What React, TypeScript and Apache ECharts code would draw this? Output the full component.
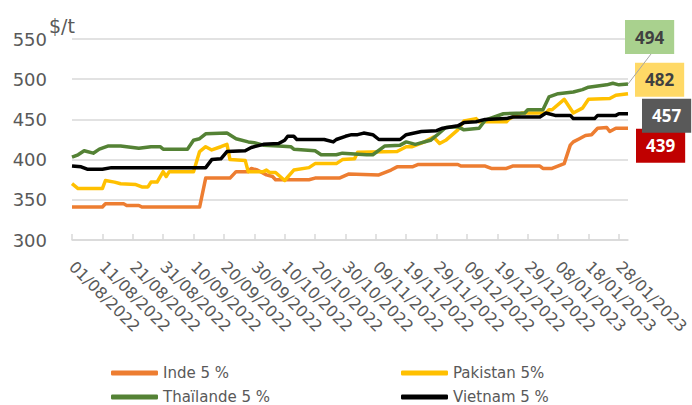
import React, { useEffect, useRef } from "react";
import * as echarts from "echarts";

// ---- data ----
const START_DATE = Date.UTC(2022, 7, 1); // 01/08/2022
const DAY_COUNT = 184; // 01/08/2022 .. 31/01/2023
const LABEL_EVERY = 10; // days between date labels

const yTicks = { min: 300, max: 550, step: 50 };
const unitLabel = "$/t";

const seriesNames = ["Inde 5 %", "Pakistan 5%", "Thaïlande 5 %", "Vietnam 5 %"];
const seriesColors = ["#ED7D31", "#FFC000", "#548235", "#000000"];
const boxColors = ["#C00000", "#FFD966", "#A9D18E", "#595959"];
const boxTextColors = ["#FFFFFF", "#404040", "#404040", "#FFFFFF"];

// [day index from 01/08/2022, $/t]
const inde: [number, number][] = [
  [0, 341], [10, 341], [11, 345], [17, 345], [18, 343], [22, 343], [23, 341], [42, 341],
  [44, 377], [52, 377], [54, 385], [58, 385], [59, 389], [61, 387], [64, 381], [66, 379],
  [67, 375], [78, 375], [80, 377], [88, 377], [91, 382], [101, 381], [105, 387], [107, 391],
  [112, 391], [114, 394], [127, 394], [128, 392], [136, 392], [138, 389], [143, 389],
  [145, 392], [154, 392], [155, 389], [158, 389], [162, 395], [164, 418], [165, 422],
  [167, 426], [169, 430], [171, 431], [173, 439], [176, 440], [177, 435], [179, 439], [183, 439],
];
const pakistan: [number, number][] = [
  [0, 370], [2, 364], [10, 364], [11, 374], [14, 372], [16, 370], [21, 369], [23, 366],
  [25, 366], [26, 372], [28, 372], [30, 385], [31, 379], [32, 385], [40, 385], [42, 410],
  [44, 416], [46, 412], [49, 416], [51, 419], [52, 400], [57, 399], [58, 385], [63, 385],
  [64, 387], [65, 384], [67, 384], [70, 374], [73, 387], [78, 390], [80, 395], [87, 395],
  [89, 400], [93, 401], [94, 409], [107, 410], [110, 416], [112, 416], [116, 422], [119, 428],
  [121, 420], [123, 424], [127, 437], [129, 448], [133, 451], [134, 447], [143, 447],
  [144, 451], [148, 458], [156, 458], [157, 462], [158, 462], [162, 475], [165, 458],
  [168, 464], [170, 475], [177, 476], [179, 480], [183, 482],
];
const thailande: [number, number][] = [
  [0, 403], [2, 406], [4, 411], [7, 408], [9, 413], [12, 417], [16, 417], [18, 416],
  [22, 414], [26, 416], [29, 416], [30, 413], [38, 413], [40, 424], [42, 426], [44, 432],
  [51, 433], [54, 426], [58, 422], [60, 421], [63, 418], [68, 417], [72, 416], [73, 413],
  [80, 411], [82, 406], [87, 406], [89, 408], [97, 406], [99, 406], [103, 417], [108, 418],
  [110, 422], [113, 419], [118, 424], [120, 430], [123, 440], [127, 441], [129, 437],
  [134, 439], [136, 449], [139, 453], [142, 457], [149, 458], [150, 462], [155, 462],
  [157, 478], [160, 482], [165, 484], [168, 487], [170, 490], [176, 493], [178, 495],
  [180, 493], [183, 494],
];
const vietnam: [number, number][] = [
  [0, 392], [3, 391], [5, 388], [10, 388], [13, 390], [44, 390], [46, 400], [49, 401],
  [51, 410], [57, 411], [59, 415], [63, 419], [68, 420], [70, 424], [71, 429], [73, 429],
  [74, 425], [83, 425], [86, 422], [87, 425], [90, 429], [92, 431], [94, 431], [96, 433],
  [99, 431], [101, 425], [108, 425], [110, 431], [115, 435], [120, 436], [122, 439],
  [127, 442], [129, 446], [133, 447], [136, 450], [143, 451], [145, 453], [154, 453],
  [156, 458], [159, 455], [164, 455], [165, 451], [172, 451], [173, 455], [179, 455],
  [180, 457], [183, 457],
];
const allSeries = [inde, pakistan, thailande, vietnam];

// categories: one per day
const pad = (n: number) => (n < 10 ? "0" + n : "" + n);
const categories: string[] = [];
for (let i = 0; i < DAY_COUNT; i++) {
  const d = new Date(START_DATE + i * 86400000);
  categories.push(`${pad(d.getUTCDate())}/${pad(d.getUTCMonth() + 1)}/${d.getUTCFullYear()}`);
}

const FONT = "'DejaVu Sans', sans-serif";
const BOX_FONT = "'Noto Sans', sans-serif";
const TEXT = "#595959";
const GRID = "#D9D9D9";

// end label offsets (box placement relative to last point)
const labelOffsets: [number, number][] = [
  [8, 17.5],
  [7, -14],
  [-3, -47],
  [14, 2],
];

// legend placement: [left, top] per series
const legendPos: [number, number][] = [
  [106, 359],
  [396, 359],
  [106, 383],
  [396, 383],
];

const everyTen = (idx: number) => idx % LABEL_EVERY === 0;

export default function App() {
  const ref = useRef<HTMLDivElement>(null);

  useEffect(() => {
    if (!ref.current) return;
    const chart = echarts.init(ref.current, null, { renderer: "svg" });

    const series = allSeries.map((data, i) => ({
      name: seriesNames[i],
      type: "line",
      data,
      showSymbol: false,
      symbol: "none",
      lineStyle: { color: seriesColors[i], width: 3.5, join: "round" },
      itemStyle: { color: seriesColors[i] },
      z: i === 3 ? 5 : 3 + i * 0.1,
      endLabel: {
        show: true,
        distance: 0,
        offset: labelOffsets[i],
        formatter: (p: any) => String(p.value[1]),
        backgroundColor: boxColors[i],
        color: boxTextColors[i],
        fontFamily: BOX_FONT,
        fontWeight: "bold",
        fontSize: 17,
        lineHeight: 19,
        padding: [8, 10, 7, 10],
      },
    }));

    const legends = seriesNames.map((name, i) => ({
      left: legendPos[i][0],
      top: legendPos[i][1],
      itemWidth: 47,
      itemHeight: 5,
      icon: "roundRect",
      data: [name],
      textStyle: { color: TEXT, fontSize: 15, fontFamily: FONT, lineHeight: 18 },
    }));

    chart.setOption({
      animation: false,
      textStyle: { fontFamily: FONT },
      title: {
        text: unitLabel,
        left: 44,
        top: 11,
        textStyle: { color: TEXT, fontSize: 19, fontWeight: "normal", fontFamily: FONT },
      },
      grid: {
        left: 72,
        right: 64,
        top: 39,
        bottom: 165,
        containLabel: false,
        outerBoundsMode: "none",
      },
      legend: legends,
      xAxis: {
        type: "category",
        data: categories,
        boundaryGap: false,
        axisLine: { show: true, lineStyle: { color: GRID, width: 1.5 } },
        axisTick: { show: true, inside: true, length: 6, interval: everyTen, lineStyle: { color: GRID, width: 1.5 } },
        axisLabel: {
          interval: everyTen,
          rotate: -45,
          color: TEXT,
          fontSize: 16,
          fontFamily: FONT,
          margin: 24,
        },
        splitLine: { show: false },
      },
      yAxis: {
        type: "value",
        min: yTicks.min,
        max: yTicks.max,
        interval: yTicks.step,
        axisLine: { show: false },
        axisTick: { show: false },
        axisLabel: { color: TEXT, fontSize: 18, fontFamily: FONT, margin: 25 },
        splitLine: { show: true, lineStyle: { color: GRID, width: 1.5 } },
      },
      series,
    });

    // leader line from the Thaïlande box to its last point
    const last = thailande[thailande.length - 1];
    const p = chart.convertToPixel({ seriesIndex: 2 }, last) as number[];
    if (p) {
      chart.setOption({
        graphic: [
          {
            type: "line",
            shape: { x1: p[0], y1: p[1], x2: p[0] + 23, y2: p[1] - 30 },
            style: { stroke: "#A6A6A6", lineWidth: 1 },
            z: 10,
          },
        ],
      });
    }

    return () => chart.dispose();
  }, []);

  return (
    <div
      ref={ref}
      style={{ position: "fixed", left: 0, top: 0, width: 692, height: 405, background: "#fff" }}
    />
  );
}
